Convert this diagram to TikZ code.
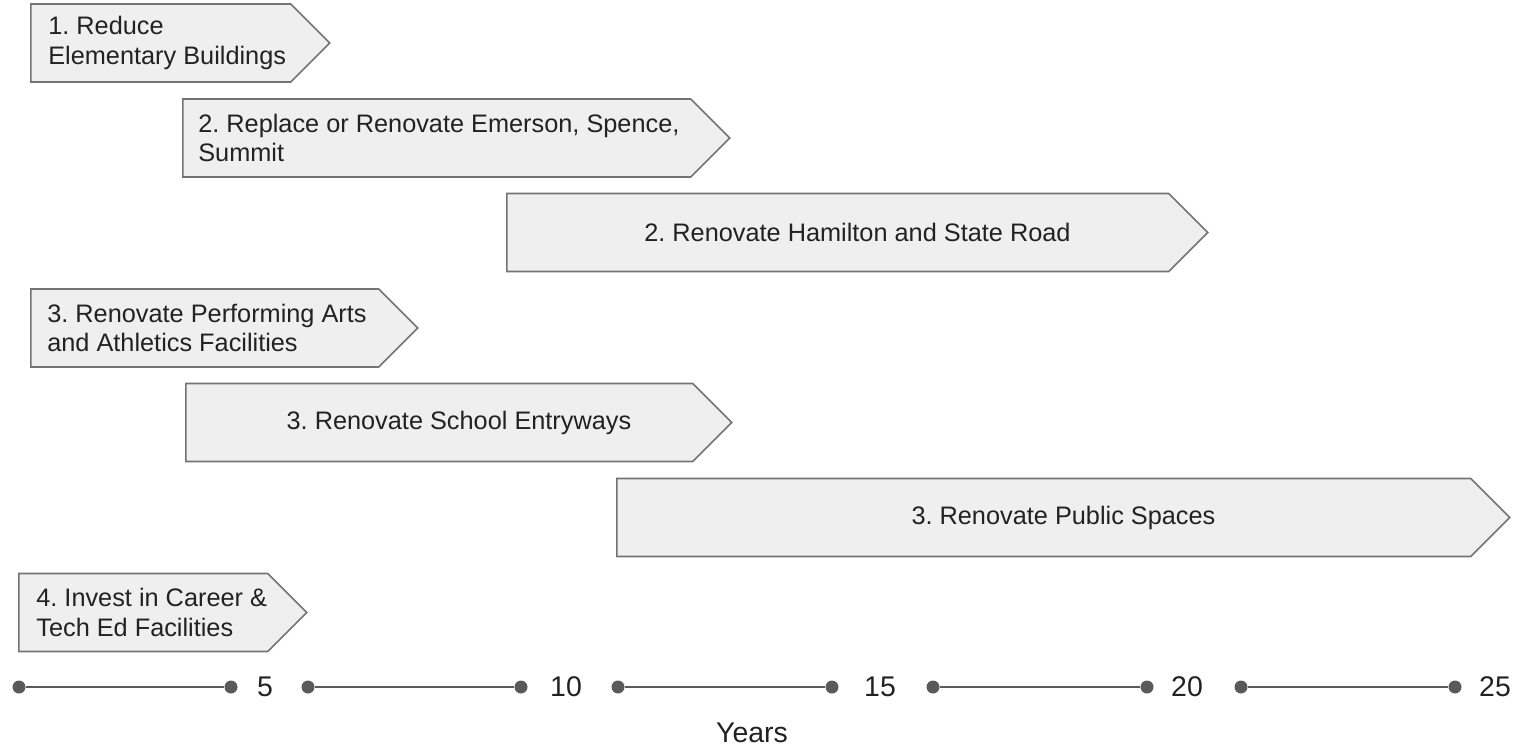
\documentclass[tikz,border=0pt]{standalone}
\usepackage{fontspec}
\setmainfont{Liberation Sans}
\usetikzlibrary{shapes.symbols,calc}
\frenchspacing

\definecolor{boxfill}{HTML}{EFEFEF}
\definecolor{boxline}{HTML}{737373}
\definecolor{axisgray}{HTML}{5A5A5A}
\definecolor{textgray}{HTML}{222222}

\begin{document}
\begin{tikzpicture}[
    phase/.style={shape=signal, signal to=east, signal pointer angle=90, fill=boxfill, draw=boxline, line width=0.9pt, inner sep=0pt, minimum height=1.56cm, anchor=west},
    phasetext/.style={font=\fontsize{14.4}{17}\selectfont, text=textgray, align=left, inner sep=0pt},
    yeardot/.style={shape=circle, fill=axisgray, inner sep=0pt, minimum size=0.26cm},
    yearline/.style={draw=axisgray, line width=1.5pt},
    yearlabel/.style={font=\fontsize{16.2}{19}\selectfont, text=textgray}
]
            \useasboundingbox (0,0) rectangle (30.46,14.94);

            % phases
            \node[phase, minimum width=5.98cm] (reduce) at (0.60,14.08) {};
            \node[phase, minimum width=10.94cm] (replace) at (3.64,12.18) {};
            \node[phase, minimum width=14.02cm] (hamilton) at (10.12,10.29) {};
            \node[phase, minimum width=7.74cm] (arts) at (0.60,8.38) {};
            \node[phase, minimum width=10.92cm] (entry) at (3.70,6.49) {};
            \node[phase, minimum width=17.86cm] (public) at (12.32,4.59) {};
            \node[phase, minimum width=5.76cm] (career) at (0.36,2.69) {};

            \node[phasetext, anchor=west] (reduce-text) at ([xshift=0.36cm]reduce.west) {1. Reduce\\Elementary Buildings};
            \node[phasetext, anchor=west] (replace-text) at ([xshift=0.32cm]replace.west) {2. Replace or Renovate Emerson, Spence,\\Summit};
            \node[phasetext] (hamilton-text) at ($(hamilton.west)!0.5!(hamilton.east)$) {2. Renovate Hamilton and State Road};
            \node[phasetext, anchor=west] (arts-text) at ([xshift=0.34cm]arts.west) {3. Renovate Performing Arts\\and Athletics Facilities};
            \node[phasetext] (entry-text) at ($(entry.west)!0.5!(entry.east)$) {3. Renovate School Entryways};
            \node[phasetext] (public-text) at ($(public.west)!0.5!(public.east)$) {3. Renovate Public Spaces};
            \node[phasetext, anchor=west] (career-text) at ([xshift=0.36cm]career.west) {4. Invest in Career \&\\Tech Ed Facilities};

            % years axis
            \node[yeardot] (A0) at (0.38,1.20) {};
            \node[yeardot] (A1) at (4.62,1.20) {};
            \node[yeardot] (B0) at (6.16,1.20) {};
            \node[yeardot] (B1) at (10.42,1.20) {};
            \node[yeardot] (C0) at (12.36,1.20) {};
            \node[yeardot] (C1) at (16.64,1.20) {};
            \node[yeardot] (D0) at (18.66,1.20) {};
            \node[yeardot] (D1) at (22.94,1.20) {};
            \node[yeardot] (E0) at (24.82,1.20) {};
            \node[yeardot] (E1) at (29.10,1.20) {};

            \path[yearline] (A0) -- (A1);
            \path[yearline] (B0) -- (B1);
            \path[yearline] (C0) -- (C1);
            \path[yearline] (D0) -- (D1);
            \path[yearline] (E0) -- (E1);

            \node[yearlabel] (Y5) at (5.30,1.20) {5};
            \node[yearlabel] (Y10) at (11.32,1.20) {10};
            \node[yearlabel] (Y15) at (17.60,1.20) {15};
            \node[yearlabel] (Y20) at (23.74,1.20) {20};
            \node[yearlabel] (Y25) at (29.90,1.20) {25};

            \node[yearlabel] (years) at (15.04,0.28) {Years};
        \end{tikzpicture}
\end{document}
